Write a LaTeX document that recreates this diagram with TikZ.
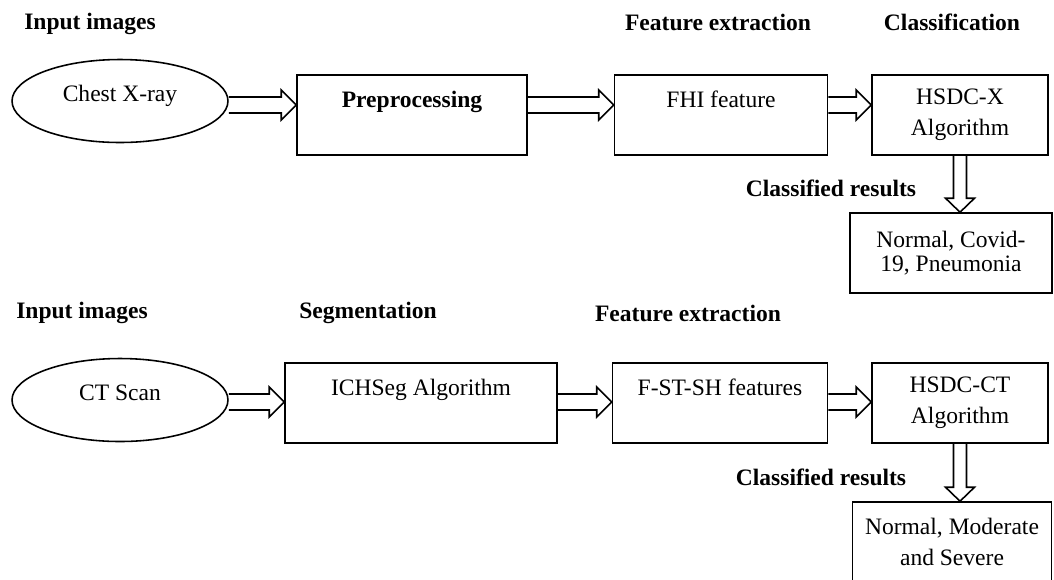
\documentclass[tikz,border=0pt]{standalone}
\usepackage{fontspec}
\setmainfont{Liberation Serif}
\usepackage{tikz}
\usetikzlibrary{calc,shapes.geometric}
\newcommand{\diagfont}{\fontsize{13.4}{16}\selectfont}
% seta larga (contorno) horizontal e vertical
\newcommand{\hblk}[2]{%
  \draw[blk] let \p1=(#1), \p2=(#2) in
    (\x1,{\y1+0.16cm}) -- ({\x2-0.3cm},{\y1+0.16cm}) -- ({\x2-0.3cm},{\y1+0.3cm})
    -- (\x2,\y1) -- ({\x2-0.3cm},{\y1-0.3cm}) -- ({\x2-0.3cm},{\y1-0.16cm}) -- (\x1,{\y1-0.16cm});}
\newcommand{\vblk}[2]{%
  \draw[blk] let \p1=(#1), \p2=(#2) in
    ({\x1-0.13cm},\y1) -- ({\x1-0.13cm},{\y2+0.28cm}) -- ({\x1-0.29cm},{\y2+0.28cm})
    -- (\x1,\y2) -- ({\x1+0.29cm},{\y2+0.28cm}) -- ({\x1+0.13cm},{\y2+0.28cm}) -- ({\x1+0.13cm},\y1);}

\begin{document}
\begin{tikzpicture}[x=0.02cm,y=-0.02cm,
    font=\diagfont,
    hdr/.style={font=\diagfont\bfseries},
    src/.style={draw,ellipse,line width=0.9pt,inner sep=0pt,minimum width=4.32cm,minimum height=1.66cm,
                text height=9pt,text depth=9pt},
    stage/.style={draw,line width=0.9pt,inner sep=0pt,minimum height=1.6cm,
                text height=18.2pt,text depth=27.3pt},
    algo/.style={draw,line width=0.9pt,align=center,minimum width=3.52cm,minimum height=1.6cm,
                font=\fontsize{13.4}{17.5}\selectfont},
    res/.style={draw,line width=0.9pt,align=center},
    blk/.style={line width=0.9pt,line join=miter}]
    \useasboundingbox (0,0) rectangle (1054,579);

    % linha de cima: raio X
    \coordinate (r1) at (0,105);
    \node[hdr] (in1) at (90,24) {Input images};
    \node[hdr] (fe1) at (718,22) {Feature extraction};
    \node[hdr] (cl1) at (952,22) {Classification};

    \node[src] (xray) at (120,101) {Chest X-ray};
    \node[stage,minimum width=4.6cm] (pre) at (412,115) {\textbf{Preprocessing}};
    \node[stage,minimum width=4.26cm] (fhi) at (721,115) {FHI feature};
    \node[algo] (hsdcx) at (960,115) {HSDC-X\\Algorithm};
    \node[hdr] (cr1) at (831,188) {Classified results};
    \node[res,minimum width=4.04cm,minimum height=1.6cm,font=\fontsize{13.4}{13.7}\selectfont] (res1) at (951,253) {Normal, Covid-\\19, Pneumonia};

    \hblk{xray.east |- r1}{pre.west |- r1}
    \hblk{pre.east |- r1}{fhi.west |- r1}
    \hblk{fhi.east |- r1}{hsdcx.west |- r1}
    \vblk{hsdcx.south}{hsdcx.south |- res1.north}

    % linha de baixo: CT
    \coordinate (r2) at (0,402);
    \node[hdr] (in2) at (82,313) {Input images};
    \node[hdr] (sg2) at (368,313) {Segmentation};
    \node[hdr] (fe2) at (688,313) {Feature extraction};

    \node[src] (ct) at (120,400) {CT Scan};
    \node[stage,minimum width=5.44cm] (ich) at (421,403) {ICHSeg Algorithm};
    \node[stage,minimum width=4.3cm] (fst) at (720,403) {F-ST-SH features};
    \node[algo] (hsdcct) at (960,403) {HSDC-CT\\Algorithm};
    \node[hdr] (cr2) at (821,477) {Classified results};
    \node[res,minimum width=3.98cm,minimum height=1.6cm,font=\fontsize{13.4}{17.5}\selectfont] (res2) at (952,542) {Normal, Moderate\\and Severe};

    \hblk{ct.east |- r2}{ich.west |- r2}
    \hblk{ich.east |- r2}{fst.west |- r2}
    \hblk{fst.east |- r2}{hsdcct.west |- r2}
    \vblk{hsdcct.south}{hsdcct.south |- res2.north}
\end{tikzpicture}
\end{document}
